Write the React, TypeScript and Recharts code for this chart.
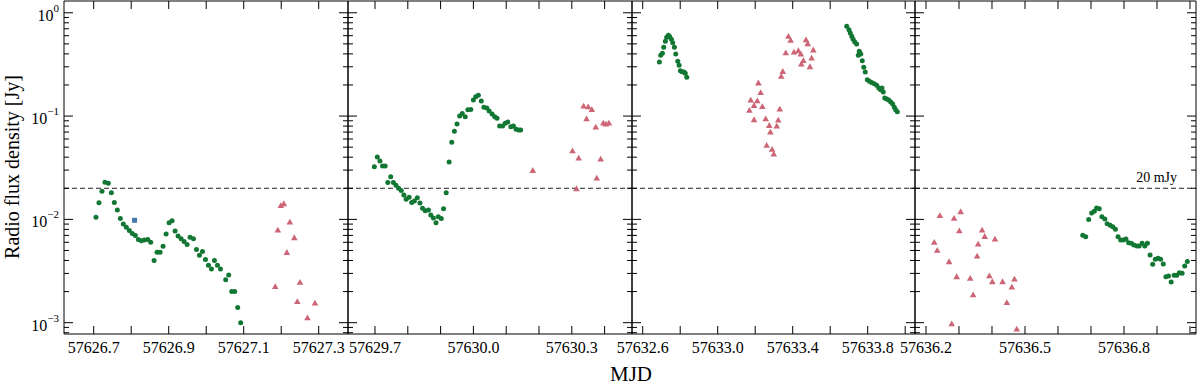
import React from "react";
import { ReferenceLine, Scatter, ScatterChart, XAxis, YAxis } from "recharts";

const SERIF = "'Liberation Serif', 'DejaVu Serif', serif";
const GREEN = "#117733";
const ROSE = "#CC6677";
const BLUE = "#4477AA";

// ---- panel 1 ----
const p1GreenMjd = [
    57626.706, 57626.714, 57626.722, 57626.73, 57626.739, 57626.747, 57626.755, 57626.763,
    57626.771, 57626.779, 57626.787, 57626.795, 57626.803, 57626.811, 57626.819, 57626.827,
    57626.835, 57626.844, 57626.852, 57626.861, 57626.869, 57626.877, 57626.885, 57626.893,
    57626.901, 57626.909, 57626.917, 57626.925, 57626.933, 57626.941, 57626.949, 57626.957,
    57626.966, 57626.974, 57626.982, 57626.99, 57626.998, 57627.006, 57627.014, 57627.022,
    57627.03, 57627.038, 57627.052, 57627.06, 57627.068, 57627.076, 57627.084, 57627.092,
];
const p1GreenFlux = [
    0.0105, 0.0145, 0.0187, 0.0229, 0.0224, 0.0181, 0.0146, 0.0123, 0.0102, 0.009, 0.0084, 0.0078,
    0.0073, 0.007, 0.0064, 0.0062, 0.0063, 0.0064, 0.006, 0.004, 0.0048, 0.0048, 0.0055, 0.0072,
    0.0093, 0.0097, 0.0077, 0.0069, 0.0065, 0.0061, 0.0057, 0.0067, 0.0065, 0.0051, 0.0045, 0.0049,
    0.0041, 0.0036, 0.0033, 0.004, 0.0036, 0.0033, 0.0026, 0.0029, 0.002, 0.002, 0.0014, 0.001,
];
const p1BlueMjd = [57626.809];
const p1BlueFlux = [0.0098];
const p1RoseMjd = [
    57627.184, 57627.191, 57627.199, 57627.207, 57627.215, 57627.223, 57627.235, 57627.243,
    57627.25, 57627.27, 57627.29,
];
const p1RoseFlux = [
    0.00222, 0.00784, 0.0135, 0.0141, 0.00476, 0.00937, 0.00661, 0.00159, 0.00244, 0.00111, 0.00154,
];

// ---- panel 2 ----
const p2GreenMjd = [
    57629.698, 57629.707, 57629.715, 57629.723, 57629.731, 57629.739, 57629.748, 57629.756,
    57629.764, 57629.772, 57629.78, 57629.788, 57629.795, 57629.804, 57629.812, 57629.82,
    57629.829, 57629.837, 57629.845, 57629.853, 57629.863, 57629.87, 57629.878, 57629.886,
    57629.893, 57629.902, 57629.909, 57629.917, 57629.926, 57629.934, 57629.942, 57629.95,
    57629.958, 57629.966, 57629.975, 57629.983, 57629.992, 57630.0, 57630.007, 57630.015,
    57630.024, 57630.032, 57630.041, 57630.048, 57630.057, 57630.065, 57630.072, 57630.08,
    57630.089, 57630.097, 57630.105, 57630.114, 57630.122, 57630.13, 57630.138, 57630.144,
];
const p2GreenFlux = [
    0.0324, 0.0402, 0.0368, 0.0329, 0.0329, 0.0227, 0.0259, 0.0227, 0.0214, 0.02, 0.019, 0.0172,
    0.0157, 0.0164, 0.0146, 0.0151, 0.0162, 0.0144, 0.0128, 0.0121, 0.0123, 0.011, 0.0103, 0.0093,
    0.0106, 0.0102, 0.0127, 0.0181, 0.0359, 0.0558, 0.0713, 0.0839, 0.1, 0.106, 0.0987, 0.115,
    0.116, 0.143, 0.154, 0.159, 0.14, 0.122, 0.12, 0.112, 0.105, 0.0987, 0.0952, 0.0802, 0.0802,
    0.0852, 0.0877, 0.079, 0.0802, 0.0745, 0.0733, 0.0733,
];
const p2RoseMjd = [
    57630.181, 57630.302, 57630.314, 57630.321, 57630.336, 57630.345, 57630.35, 57630.361,
    57630.373, 57630.376, 57630.388, 57630.396, 57630.404, 57630.413,
];
const p2RoseFlux = [
    0.0296, 0.0459, 0.0197, 0.039, 0.124, 0.0937, 0.122, 0.115, 0.0779, 0.025, 0.0382, 0.0852,
    0.0833, 0.0852,
];

// ---- panel 3 ----
const p3GreenMjd = [
    57632.689, 57632.696, 57632.705, 57632.712, 57632.721, 57632.728, 57632.737, 57632.744,
    57632.753, 57632.76, 57632.769, 57632.776, 57632.787, 57632.794, 57632.801, 57632.81,
    57632.82, 57632.827, 57632.835,
    57633.688, 57633.7, 57633.707, 57633.715, 57633.722, 57633.731, 57633.741, 57633.75,
    57633.755, 57633.763, 57633.771, 57633.779, 57633.787, 57633.798, 57633.809, 57633.821,
    57633.835, 57633.848, 57633.859, 57633.869, 57633.876, 57633.883, 57633.891, 57633.901,
    57633.912, 57633.923, 57633.933, 57633.942, 57633.949, 57633.958,
];
const p3GreenFlux = [
    0.334, 0.388, 0.406, 0.463, 0.53, 0.579, 0.606, 0.587, 0.554, 0.514, 0.463, 0.399, 0.339,
    0.31, 0.275, 0.269, 0.267, 0.26, 0.238,
    0.74, 0.686, 0.637, 0.592, 0.554, 0.522, 0.499, 0.388, 0.424, 0.399, 0.344, 0.297, 0.267,
    0.225, 0.217, 0.211, 0.205, 0.199, 0.187, 0.18, 0.187, 0.171, 0.15, 0.146, 0.143, 0.137,
    0.131, 0.122, 0.115, 0.11,
];
const p3RoseMjd = [
    57633.169, 57633.176, 57633.194, 57633.194, 57633.211, 57633.217, 57633.229, 57633.238,
    57633.256, 57633.261, 57633.275, 57633.281, 57633.29, 57633.299, 57633.315, 57633.323,
    57633.331, 57633.339, 57633.347, 57633.363, 57633.377, 57633.389, 57633.407, 57633.43,
    57633.443, 57633.446, 57633.457, 57633.471, 57633.48, 57633.492, 57633.501, 57633.51,
];
const p3RoseFlux = [
    0.113, 0.142, 0.126, 0.0917, 0.14, 0.208, 0.168, 0.123, 0.0937, 0.0517, 0.0807, 0.0697,
    0.0473, 0.0427, 0.0797, 0.0911, 0.116, 0.241, 0.269, 0.408, 0.587, 0.537, 0.415, 0.427,
    0.397, 0.317, 0.342, 0.545, 0.499, 0.299, 0.363, 0.434,
];

// ---- panel 4 ----
const p4GreenMjd = [
    57636.675, 57636.684, 57636.693, 57636.702, 57636.71, 57636.717, 57636.725, 57636.733,
    57636.742, 57636.749, 57636.758, 57636.766, 57636.774, 57636.782, 57636.79, 57636.798,
    57636.806, 57636.814, 57636.822, 57636.83, 57636.839, 57636.846, 57636.855, 57636.863,
    57636.871, 57636.879, 57636.887, 57636.895, 57636.903, 57636.911, 57636.919, 57636.927,
    57636.935, 57636.943, 57636.952, 57636.96, 57636.968, 57636.976, 57636.984, 57636.992,
];
const p4GreenFlux = [
    0.00702, 0.0068, 0.01, 0.0115, 0.012, 0.0129, 0.0127, 0.0106, 0.0101, 0.00909, 0.00877,
    0.0085, 0.00802, 0.0068, 0.00632, 0.00632, 0.00646, 0.00595, 0.00587, 0.00565, 0.00553,
    0.00553, 0.00587, 0.00553, 0.00587, 0.00452, 0.00367, 0.00411, 0.0042, 0.00411, 0.0037,
    0.00279, 0.00283, 0.00248, 0.00288, 0.00288, 0.00305, 0.00301, 0.00354, 0.0039,
];
const p4RoseMjd = [
    57636.225, 57636.234, 57636.242, 57636.27, 57636.278, 57636.285, 57636.293, 57636.301,
    57636.305, 57636.328, 57636.334, 57636.343, 57636.355, 57636.358, 57636.37, 57636.378,
    57636.392, 57636.401, 57636.409, 57636.432, 57636.445, 57636.46, 57636.468, 57636.475,
];
const p4RoseFlux = [
    0.00595, 0.00498, 0.0108, 0.00387, 0.000971, 0.0102, 0.00277, 0.00772, 0.0118, 0.00071,
    0.00267, 0.00185, 0.00439, 0.00574, 0.00784, 0.0068, 0.00283, 0.00248, 0.00642, 0.00248,
    0.00156, 0.0022, 0.00263, 0.000863,
];

// ---- axes ----
const p1Ticks = [57626.7, 57626.8, 57626.9, 57627.0, 57627.1, 57627.2, 57627.3];
const p1Labels = ["57626.7", "57626.9", "57627.1", "57627.3"];
const p2Ticks = [57629.7, 57629.8, 57629.9, 57630.0, 57630.1, 57630.2, 57630.3, 57630.4];
const p2Labels = ["57629.7", "57630.0", "57630.3"];
const p3Ticks = [57632.6, 57632.8, 57633.0, 57633.2, 57633.4, 57633.6, 57633.8, 57634.0];
const p3Labels = ["57632.6", "57633.0", "57633.4", "57633.8"];
const p4Ticks = [
    57636.2, 57636.3, 57636.4, 57636.5, 57636.6, 57636.7, 57636.8, 57636.9, 57637.0,
];
const p4Labels = ["57636.2", "57636.5", "57636.8"];

const yMajor = [0.001, 0.01, 0.1, 1];
const yMajorLabels = ["−3", "−2", "−1", "0"];
const Y_DOMAIN = [0.000777, 1.3];
const yTicks: number[] = [];
[0.0001, 0.001, 0.01, 0.1, 1].forEach((d) => {
    for (let m = 1; m <= 9; m++) {
        const v = +(m * d).toPrecision(6);
        if (v >= Y_DOMAIN[0] && v <= Y_DOMAIN[1]) yTicks.push(v);
    }
});

const zip = (xs: number[], ys: number[]) => xs.map((x, i) => ({ x, y: ys[i] }));

const majorIndex = (v: number) => yMajor.findIndex((m) => Math.abs(m - v) < m * 1e-6);

const BottomTick = (props: any) => {
    const { x, y, payload, labels } = props;
    const label = labels.find((s: string) => Math.abs(Number(s) - payload.value) < 1e-6);
    return (
        <g>
            <line x1={x} y1={y} x2={x} y2={y - 8} stroke="#000" />
            {label && (
                <text x={x} y={y + 18.5} textAnchor="middle" fontSize={16} fontFamily={SERIF} fill="#000">
                    {label}
                </text>
            )}
        </g>
    );
};

const TopTick = (props: any) => {
    const { x, y } = props;
    return <line x1={x} y1={y} x2={x} y2={y + 8} stroke="#000" />;
};

const LeftTick = (props: any) => {
    const { x, y, payload, showLabel } = props;
    const idx = majorIndex(payload.value);
    const major = idx >= 0;
    return (
        <g>
            <line x1={x} y1={y} x2={x + (major ? 9 : 5)} y2={y} stroke="#000" />
            {showLabel && major && (
                <text x={x - 5} y={y + 8} textAnchor="end" fontFamily={SERIF} fill="#000" fontSize={16}>
                    <tspan>10</tspan>
                    <tspan dy={-9} fontSize={11}>
                        {yMajorLabels[idx]}
                    </tspan>
                </text>
            )}
        </g>
    );
};

const RightTick = (props: any) => {
    const { x, y, payload } = props;
    const major = majorIndex(payload.value) >= 0;
    return <line x1={x} y1={y} x2={x - (major ? 9 : 5)} y2={y} stroke="#000" />;
};

const MjyLabel = (props: any) => {
    const vb = props.viewBox;
    if (!vb) return null;
    return (
        <text x={vb.x + vb.width - 19} y={vb.y - 6} textAnchor="end" fontSize={14} fontFamily={SERIF} fill="#000">
            20 mJy
        </text>
    );
};

const dot = (color: string) => (p: any) => <circle cx={p.cx} cy={p.cy} r={2.5} fill={color} />;
const tri = (color: string) => (p: any) => (
    <polygon
        points={`${p.cx},${p.cy - 3.6} ${p.cx - 3.3},${p.cy + 2.2} ${p.cx + 3.3},${p.cy + 2.2}`}
        fill={color}
    />
);
const sq = (color: string) => (p: any) => (
    <rect x={p.cx - 2.5} y={p.cy - 2.5} width={5} height={5} fill={color} />
);

type Series = { data: { x: number; y: number }[]; shape: (p: any) => React.ReactElement };

const panels: {
    left: number;
    right: number;
    domain: [number, number];
    ticks: number[];
    labels: string[];
    series: Series[];
}[] = [
    {
        left: 64,
        right: 348,
        domain: [57626.6208, 57627.3781],
        ticks: p1Ticks,
        labels: p1Labels,
        series: [
            { data: zip(p1GreenMjd, p1GreenFlux), shape: dot(GREEN) },
            { data: zip(p1RoseMjd, p1RoseFlux), shape: tri(ROSE) },
            { data: zip(p1BlueMjd, p1BlueFlux), shape: sq(BLUE) },
        ],
    },
    {
        left: 348,
        right: 632,
        domain: [57629.6177, 57630.4835],
        ticks: p2Ticks,
        labels: p2Labels,
        series: [
            { data: zip(p2GreenMjd, p2GreenFlux), shape: dot(GREEN) },
            { data: zip(p2RoseMjd, p2RoseFlux), shape: tri(ROSE) },
        ],
    },
    {
        left: 632,
        right: 915,
        domain: [57632.5429, 57634.0523],
        ticks: p3Ticks,
        labels: p3Labels,
        series: [
            { data: zip(p3GreenMjd, p3GreenFlux), shape: dot(GREEN) },
            { data: zip(p3RoseMjd, p3RoseFlux), shape: tri(ROSE) },
        ],
    },
    {
        left: 915,
        right: 1196,
        domain: [57636.1667, 57637.0182],
        ticks: p4Ticks,
        labels: p4Labels,
        series: [
            { data: zip(p4GreenMjd, p4GreenFlux), shape: dot(GREEN) },
            { data: zip(p4RoseMjd, p4RoseFlux), shape: tri(ROSE) },
        ],
    },
];

// axes are 1px thick so that they render; margins make up the rest
const Panel = ({ p, first, last }: { p: (typeof panels)[number]; first: boolean; last: boolean }) => {
    const padL = first ? 64 : 40;
    const padR = 40;
    const w = p.right - p.left + padL + padR;
    const axisCommon = {
        allowDataOverflow: true,
        interval: 0 as const,
        tickSize: 0,
        tickMargin: 0,
        tickLine: false,
        axisLine: { stroke: "#000" },
    };
    return (
        <div style={{ position: "absolute", left: p.left - padL, top: 0 }}>
            <ScatterChart
                width={w}
                height={386}
                margin={{ top: 0, right: padR - 1, bottom: 51, left: padL - 1 }}
            >
                <XAxis
                    xAxisId="b"
                    type="number"
                    dataKey="x"
                    domain={p.domain}
                    ticks={p.ticks}
                    height={1}
                    {...axisCommon}
                    tick={<BottomTick labels={p.labels} />}
                />
                <XAxis
                    xAxisId="t"
                    orientation="top"
                    type="number"
                    dataKey="x"
                    domain={p.domain}
                    ticks={p.ticks}
                    height={1}
                    {...axisCommon}
                    tick={<TopTick />}
                />
                <YAxis
                    yAxisId="l"
                    type="number"
                    dataKey="y"
                    scale="log"
                    domain={Y_DOMAIN}
                    ticks={yTicks}
                    width={1}
                    {...axisCommon}
                    tick={<LeftTick showLabel={first} />}
                />
                <YAxis
                    yAxisId="r"
                    orientation="right"
                    type="number"
                    dataKey="y"
                    scale="log"
                    domain={Y_DOMAIN}
                    ticks={yTicks}
                    width={1}
                    {...axisCommon}
                    tick={<RightTick />}
                />
                <ReferenceLine
                    xAxisId="b"
                    yAxisId="l"
                    y={0.02}
                    stroke="#222"
                    strokeDasharray="5 3"
                    label={last ? <MjyLabel /> : undefined}
                />
                {p.series.map((s, i) => (
                    <Scatter
                        key={i}
                        xAxisId="b"
                        yAxisId="l"
                        data={s.data}
                        shape={s.shape}
                        isAnimationActive={false}
                    />
                ))}
            </ScatterChart>
        </div>
    );
};

export default function App() {
    return (
        <div style={{ position: "absolute", left: 0, top: 0, width: 1200, height: 386, background: "#fff" }}>
            {panels.map((p, i) => (
                <Panel key={i} p={p} first={i === 0} last={i === panels.length - 1} />
            ))}
            <svg width={1200} height={386} style={{ position: "absolute", left: 0, top: 0, pointerEvents: "none" }}>
                <text
                    x={19}
                    y={167}
                    transform="rotate(-90 19 167)"
                    textAnchor="middle"
                    fontSize={20}
                    fontFamily={SERIF}
                    fill="#000"
                >
                    Radio flux density [Jy]
                </text>
                <text x={631} y={381} textAnchor="middle" fontSize={21} fontFamily={SERIF} fill="#000">
                    MJD
                </text>
            </svg>
        </div>
    );
}
